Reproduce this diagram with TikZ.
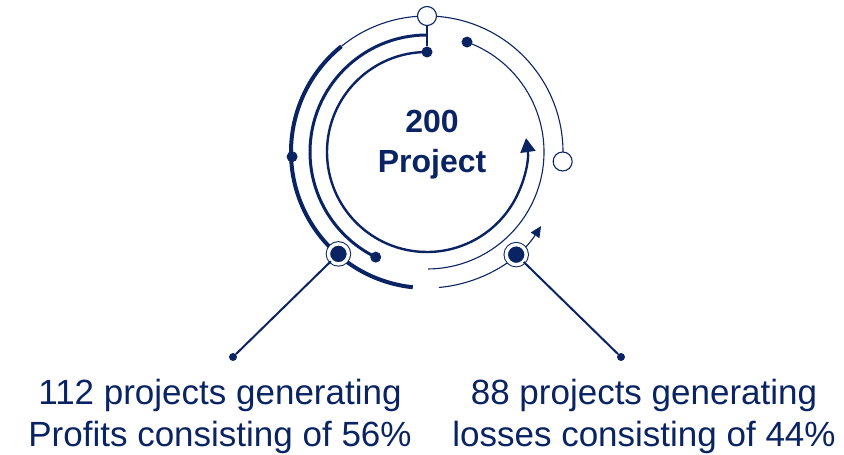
\documentclass[tikz,border=0pt]{standalone}
\usepackage{fontspec}
\setmainfont{Liberation Sans}
\usepackage{tikz}
\usetikzlibrary{arrows.meta,positioning}
\definecolor{colorN}{RGB}{10,36,99}
\tikzstyle{thin}=[draw=colorN, line width=1.1pt]
\tikzstyle{thick}=[draw=colorN, line width=4pt]
\tikzstyle{mid}=[draw=colorN, line width=3pt]
\tikzstyle{inner}=[draw=colorN, line width=2.4pt]
\tikzstyle{link}=[draw=colorN, line width=2pt]
\tikzstyle{dot}=[circle, fill=colorN, inner sep=0pt, minimum size=11pt]
\tikzstyle{enddot}=[circle, fill=colorN, inner sep=0pt, minimum size=8pt]
\tikzstyle{open}=[circle, draw=colorN, fill=white, line width=1.1pt, inner sep=0pt, minimum size=19pt]
\tikzstyle{target}=[circle, fill=colorN, draw=colorN, line width=1pt, double=white, double distance=3.4pt, inner sep=0pt, minimum size=20pt]
\tikzstyle{lab}=[text=colorN, align=center, anchor=base, inner sep=0pt, font=\fontsize{35}{42}\selectfont]

\begin{document}
\begin{tikzpicture}[x=1pt,y=1pt]
\useasboundingbox (0,0) rectangle (844,455);
\coordinate (ctr) at (427,303);

% outer ring
\draw [thin] (ctr) ++(129:136pt) arc[start angle=129, end angle=-4, radius=136pt];
\draw [thick] (ctr) ++(129:136pt) arc[start angle=129, end angle=264, radius=136pt];
\draw [thin,-{Triangle[length=11pt,width=10pt]}] (ctr) ++(-85:136pt) arc[start angle=-85, end angle=-33, radius=136pt];
% middle rings
\draw [mid] (ctr) ++(90:117pt) arc[start angle=90, end angle=244, radius=117pt];
\draw [thin] (ctr) ++(70:117pt) arc[start angle=70, end angle=-89.5, radius=117pt];
% inner ring
\draw [inner,-{Triangle[length=14pt,width=15pt]}] (ctr) ++(90:100pt) arc[start angle=90, end angle=368, radius=100pt];

\node (topOpen) [open] at ([shift={(90:136pt)}]ctr) {};
\node (rightOpen) [open] at ([shift={(-4:136pt)}]ctr) {};
\node (innerDot) [dot] at ([shift={(90:100pt)}]ctr) {};
\node (leftDot) [dot] at ([shift={(182:135pt)}]ctr) {};
\node (thinDot) [dot] at ([shift={(70:117pt)}]ctr) {};
\node (midDot) [dot] at ([shift={(244:117pt)}]ctr) {};
\draw [thin] (topOpen) -- (innerDot);

\node (profit) [target] at ([shift={(229:135pt)}]ctr) {};
\node (loss) [target] at ([shift={(-49:136pt)}]ctr) {};
\node (profitEnd) [enddot] at (233,98) {};
\node (lossEnd) [enddot] at (621,98) {};
\draw [link] (profit) -- (profitEnd);
\draw [link] (loss) -- (lossEnd);

\node (total) [lab, font=\fontsize{32}{40}\selectfont\bfseries] at (432,282) {200\\Project};
\node (profitText) [lab] at (220,8) {112 projects generating\\Profits consisting of 56\%};
\node (lossText) [lab] at (644,8) {88 projects generating\\losses consisting of 44\%};

\end{tikzpicture}
\end{document}
